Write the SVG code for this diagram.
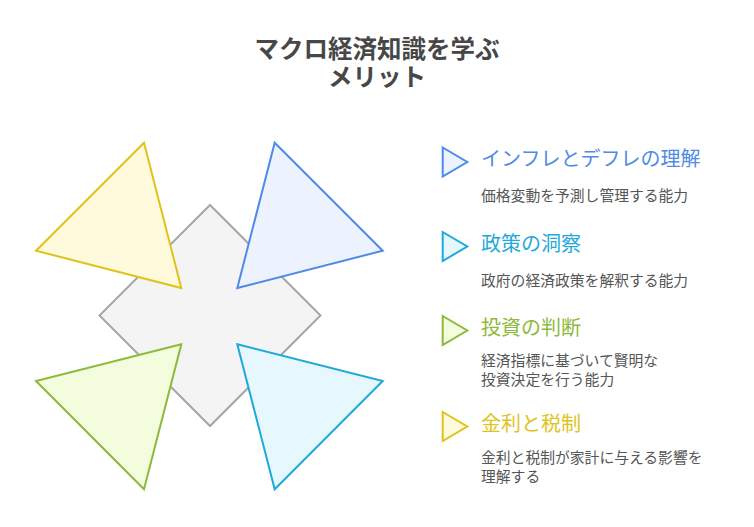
<svg xmlns="http://www.w3.org/2000/svg" width="754" height="527" viewBox="0 0 754 527">
<style>
text { font-family: "Noto Sans CJK JP", "Noto Sans", sans-serif; }
.title { font-size: 24.5px; font-weight: bold; fill: #474747; text-anchor: middle; }
.head { font-size: 20px; }
.desc { font-size: 14.8px; fill: #555555; }
.sh { stroke-width: 2; stroke-linejoin: miter; }
.blue { stroke: #4f8ae6; fill: #ecf3fe; }
.cyan { stroke: #1fa9db; fill: #e6f7fe; }
.green { stroke: #8cba3a; fill: #f3fcdd; }
.yellow { stroke: #dfc31a; fill: #fefadb; }
</style>
<rect width="754" height="527" fill="#ffffff"/>
<g id="title">
<text class="title" x="377" y="57.5"><tspan x="377">マクロ経済知識を学ぶ</tspan><tspan x="377" dy="28.5">メリット</tspan></text>
</g>
<g id="center">
<polygon class="sh" points="210,205 320.5,315.5 210,426 99.5,315.5" fill="#f4f4f4" stroke="#a6a6a6"/>
</g>
<g id="tri-yellow">
<polygon class="sh yellow" points="144,142.7 36,250.7 181.3,288"/>
</g>
<g id="tri-blue">
<polygon class="sh blue" points="274.7,142.7 382.7,250.7 237.3,288"/>
</g>
<g id="tri-green">
<polygon class="sh green" points="181.3,344.3 36,381 144,489.3"/>
</g>
<g id="tri-cyan">
<polygon class="sh cyan" points="237.3,344.3 382.7,381 274.7,489.3"/>
</g>
<g id="item1">
<polygon class="sh blue" points="442.7,147.5 467.3,162 442.7,176.5"/>
<text class="head" x="481" y="166" fill="#4f8ae6">インフレとデフレの理解</text>
<text class="desc" x="481" y="201">価格変動を予測し管理する能力</text>
</g>
<g id="item2">
<polygon class="sh cyan" points="442.7,232 467.3,246.5 442.7,261"/>
<text class="head" x="481" y="251" fill="#1fa9db">政策の洞察</text>
<text class="desc" x="481" y="286">政府の経済政策を解釈する能力</text>
</g>
<g id="item3">
<polygon class="sh green" points="442.7,316 467.3,330.5 442.7,345"/>
<text class="head" x="481" y="335" fill="#8cba3a">投資の判断</text>
<text class="desc" x="481" y="366"><tspan x="481">経済指標に基づいて賢明な</tspan><tspan x="481" dy="19">投資決定を行う能力</tspan></text>
</g>
<g id="item4">
<polygon class="sh yellow" points="442.7,412 467.3,426.5 442.7,441"/>
<text class="head" x="481" y="431" fill="#dfc31a">金利と税制</text>
<text class="desc" x="481" y="463"><tspan x="481">金利と税制が家計に与える影響を</tspan><tspan x="481" dy="19">理解する</tspan></text>
</g>
<g id="connectors"></g>
</svg>
